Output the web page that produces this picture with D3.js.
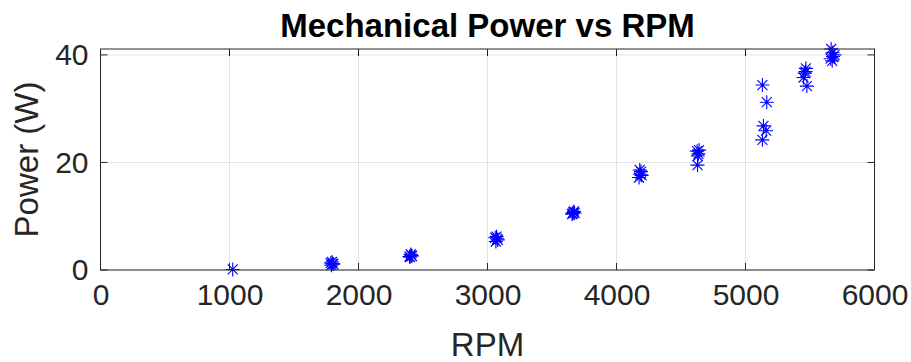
<!DOCTYPE html>
<html>
<head>
<meta charset="utf-8">
<script src="https://cdn.jsdelivr.net/npm/d3@7"></script>
<style>
  html, body { margin: 0; padding: 0; background: #fff; }
  svg { display: block; font-family: "Liberation Sans", Arial, Helvetica, sans-serif; }
</style>
</head>
<body>
<svg id="chart" width="911" height="362"></svg>
<script>
// ---- data ----
const rpm = [
  1025,
  1790, 1800, 1795, 1805, 1785,
  2400, 2410, 2405, 2395, 2415,
  3065, 3075, 3070, 3080, 3060,
  3655, 3665, 3670, 3660, 3675,
  4175, 4185, 4190, 4180, 4195,
  4625, 4635, 4640, 4630, 4628,
  5131, 5165, 5139, 5160, 5131,
  5468, 5460, 5450, 5476, 5465,
  5664, 5678, 5672, 5690, 5660, 5675
];
const power = [
  0.1,
  0.9, 1.2, 1.5, 1.1, 1.3,
  2.4, 2.7, 2.9, 2.5, 2.6,
  5.3, 5.8, 6.2, 5.6, 6.0,
  10.4, 10.7, 10.9, 10.5, 10.6,
  17.2, 17.8, 18.3, 18.6, 17.6,
  22.1, 21.6, 22.3, 21.2, 19.5,
  34.4, 31.2, 26.8, 25.9, 24.2,
  37.5, 36.6, 35.8, 34.2, 36.9,
  41.1, 39.7, 38.9, 40.0, 39.3, 40.4
];
const xTicks = [0, 1000, 2000, 3000, 4000, 5000, 6000];
const yTicks = [0, 20, 40];
const xDomain = [0, 6000];
const yDomain = [0, 41.1];
const titleText = "Mechanical Power vs RPM";
const xLabelText = "RPM";
const yLabelText = "Power (W)";

// ---- layout ----
const svg = d3.select("#chart");
const L = 100.5, R = 874.5, T = 49, B = 270;
const x = d3.scaleLinear().domain(xDomain).range([L, R]);
const y = d3.scaleLinear().domain(yDomain).range([B, T]);
const axisColor = "#262626";

// grid
const grid = svg.append("g");
grid.selectAll("line.gx").data(xTicks).enter().append("line")
  .attr("x1", d => x(d)).attr("x2", d => x(d)).attr("y1", T).attr("y2", B)
  .attr("stroke", "#e3e3e3").attr("stroke-width", 1);
grid.selectAll("line.gy").data(yTicks).enter().append("line")
  .attr("y1", d => y(d)).attr("y2", d => y(d)).attr("x1", L).attr("x2", R)
  .attr("stroke", "#e3e3e3").attr("stroke-width", 1);

// data markers (asterisk)
const r = 7, d2 = 5;
const starPath = `M${-r},0H${r}M0,${-r}V${r}M${-d2},${-d2}L${d2},${d2}M${-d2},${d2}L${d2},${-d2}`;
svg.append("g").selectAll("path").data(rpm.map((v, i) => [v, power[i]])).enter()
  .append("path")
  .attr("d", starPath)
  .attr("transform", d => `translate(${x(d[0])},${y(d[1])})`)
  .attr("fill", "none").attr("stroke", "#0000ff").attr("stroke-width", 1.1);

// axes
const tickLen = 7;
const xAxisB = d3.axisBottom(x).tickValues(xTicks).tickSize(0).tickPadding(14).tickFormat(d3.format("d"));
const gx = svg.append("g").attr("transform", `translate(0,${B})`).call(xAxisB);
gx.select(".domain").remove();
gx.selectAll("text").attr("font-size", 30).attr("fill", axisColor)
  .attr("font-family", "Liberation Sans, Arial, sans-serif").attr("dy", "0.71em");

const yAxisL = d3.axisLeft(y).tickValues(yTicks).tickSize(0).tickPadding(12).tickFormat(d3.format("d"));
const gy = svg.append("g").attr("transform", `translate(${L},0)`).call(yAxisL);
gy.select(".domain").remove();
gy.selectAll("text").attr("font-size", 30).attr("fill", axisColor)
  .attr("font-family", "Liberation Sans, Arial, sans-serif");

// inward ticks on all four sides
const ticks = svg.append("g").attr("stroke", axisColor).attr("stroke-width", 1);
ticks.selectAll("line.xb").data(xTicks).enter().append("line")
  .attr("x1", d => x(d)).attr("x2", d => x(d)).attr("y1", B).attr("y2", B - tickLen);
ticks.selectAll("line.xt").data(xTicks).enter().append("line")
  .attr("x1", d => x(d)).attr("x2", d => x(d)).attr("y1", T).attr("y2", T + tickLen);
ticks.selectAll("line.yl").data(yTicks).enter().append("line")
  .attr("y1", d => y(d)).attr("y2", d => y(d)).attr("x1", L).attr("x2", L + tickLen);
ticks.selectAll("line.yr").data(yTicks).enter().append("line")
  .attr("y1", d => y(d)).attr("y2", d => y(d)).attr("x1", R).attr("x2", R - tickLen);

// box
svg.append("rect").attr("x", L).attr("y", T).attr("width", R - L).attr("height", B - T)
  .attr("fill", "none").attr("stroke", axisColor).attr("stroke-width", 1);

// title and labels
svg.append("text").attr("x", (L + R) / 2).attr("y", 37).attr("text-anchor", "middle")
  .attr("font-size", 33).attr("font-weight", "bold").attr("fill", "#000").text(titleText);
svg.append("text").attr("x", (L + R) / 2).attr("y", 356).attr("text-anchor", "middle")
  .attr("font-size", 33).attr("fill", axisColor).text(xLabelText);
svg.append("text").attr("transform", `translate(38,${(T + B) / 2}) rotate(-90)`)
  .attr("text-anchor", "middle").attr("font-size", 33).attr("fill", axisColor).text(yLabelText);
</script>
</body>
</html>
